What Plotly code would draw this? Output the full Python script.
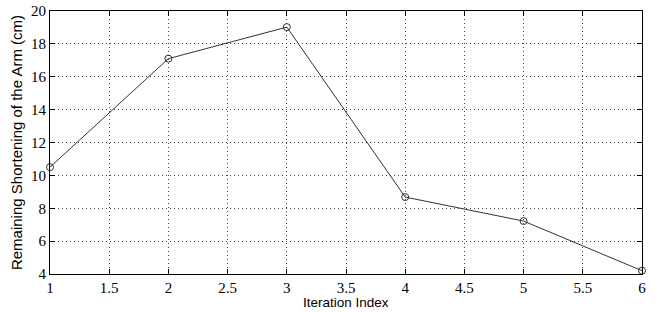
import plotly.graph_objects as go

iterations = [1, 2, 3, 4, 5, 6]
shortening = [10.5, 17.1, 19.02, 8.68, 7.22, 4.2]

x_ticks = [1, 1.5, 2, 2.5, 3, 3.5, 4, 4.5, 5, 5.5, 6]
x_tick_labels = ["1", "1.5", "2", "2.5", "3", "3.5", "4", "4.5", "5", "5.5", "6"]
y_ticks = [4, 6, 8, 10, 12, 14, 16, 18, 20]

fig = go.Figure()
fig.add_trace(go.Scatter(
    x=iterations, y=shortening, mode="lines+markers",
    line=dict(color="#333333", width=1),
    marker=dict(symbol="circle-open", size=7, color="#333333", line=dict(width=1)),
    cliponaxis=False, showlegend=False,
))

axis_common = dict(
    showline=True, linecolor="black", linewidth=1, mirror="allticks",
    ticks="inside", ticklen=5, tickcolor="black",
    showgrid=True, gridcolor="#444444", griddash="1px,3px", gridwidth=1,
    zeroline=False, automargin=False,
    tickfont=dict(family="Liberation Serif, Times New Roman, serif", size=15, color="black"),
)

fig.update_layout(
    width=659, height=313,
    margin=dict(l=50, r=17, t=11, b=39),
    paper_bgcolor="white", plot_bgcolor="white",
    xaxis=dict(range=[1, 6], tickvals=x_ticks, ticktext=x_tick_labels, **axis_common),
    yaxis=dict(range=[4, 20], tickvals=y_ticks,
               title=dict(text="Remaining Shortening of the Arm (cm)", standoff=4,
                          font=dict(family="Liberation Sans, Arial, sans-serif", size=15, color="black")),
               **axis_common),
    annotations=[dict(
        text="Iteration Index", xref="paper", yref="paper", x=0.5, y=0,
        xanchor="center", yanchor="middle", yshift=-28, showarrow=False,
        font=dict(family="Liberation Sans, Arial, sans-serif", size=13.5, color="black"),
    )],
)

fig.write_html("out.html", config={"displayModeBar": False},
               post_script="document.body.style.margin='0';document.body.style.overflow='hidden';")
